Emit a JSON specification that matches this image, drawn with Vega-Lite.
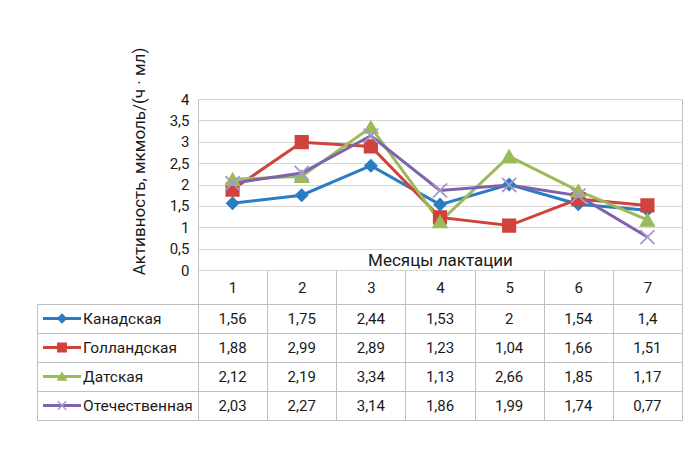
{
  "$schema": "https://vega.github.io/schema/vega-lite/v6.json",
  "padding": {"left": 36, "top": 46, "right": 3, "bottom": 30},
  "background": "white",
  "config": {
    "locale": {"number": {"decimal": ",", "thousands": " ", "grouping": [3], "currency": ["", ""]}},
    "font": "Roboto",
    "axis": {"labelFont": "Roboto", "titleFont": "Roboto", "labelColor": "#1a1a1a", "titleColor": "#1a1a1a"},
    "text": {"font": "Roboto"},
    "view": {"stroke": "#BFBFBF"}
  },
  "datasets": {
    "d": [
      {"series": "Канадская", "month": "1", "value": 1.56},
      {"series": "Канадская", "month": "2", "value": 1.75},
      {"series": "Канадская", "month": "3", "value": 2.44},
      {"series": "Канадская", "month": "4", "value": 1.53},
      {"series": "Канадская", "month": "5", "value": 2},
      {"series": "Канадская", "month": "6", "value": 1.54},
      {"series": "Канадская", "month": "7", "value": 1.4},
      {"series": "Голландская", "month": "1", "value": 1.88},
      {"series": "Голландская", "month": "2", "value": 2.99},
      {"series": "Голландская", "month": "3", "value": 2.89},
      {"series": "Голландская", "month": "4", "value": 1.23},
      {"series": "Голландская", "month": "5", "value": 1.04},
      {"series": "Голландская", "month": "6", "value": 1.66},
      {"series": "Голландская", "month": "7", "value": 1.51},
      {"series": "Датская", "month": "1", "value": 2.12},
      {"series": "Датская", "month": "2", "value": 2.19},
      {"series": "Датская", "month": "3", "value": 3.34},
      {"series": "Датская", "month": "4", "value": 1.13},
      {"series": "Датская", "month": "5", "value": 2.66},
      {"series": "Датская", "month": "6", "value": 1.85},
      {"series": "Датская", "month": "7", "value": 1.17},
      {"series": "Отечественная", "month": "1", "value": 2.03},
      {"series": "Отечественная", "month": "2", "value": 2.27},
      {"series": "Отечественная", "month": "3", "value": 3.14},
      {"series": "Отечественная", "month": "4", "value": 1.86},
      {"series": "Отечественная", "month": "5", "value": 1.99},
      {"series": "Отечественная", "month": "6", "value": 1.74},
      {"series": "Отечественная", "month": "7", "value": 0.77}
    ]
  },
  "columns": 2,
  "spacing": {"row": 34, "column": 0},
  "bounds": "flush",
  "concat": [
    {
      "width": 161,
      "height": 171,
      "data": {"values": []},
      "mark": {"type": "text"},
      "encoding": {},
      "view": {"stroke": null}
    },
    {
      "width": 484,
      "height": 171,
      "data": {"name": "d"},
      "encoding": {
        "x": {
          "field": "month", "type": "ordinal", "bandPosition": 0.5,
          "scale": {"type": "band", "paddingInner": 0, "paddingOuter": 0},
          "axis": {
            "title": "Месяцы лактации", "titleFontSize": 17, "titleFontWeight": "normal",
            "titleY": -5, "titleBaseline": "alphabetic",
            "labelAngle": 0, "labelFontSize": 15, "labelBaseline": "middle", "labelPadding": -16.5,
            "ticks": true, "tickBand": "extent", "tickSize": 34, "tickColor": "#BFBFBF",
            "domain": false, "grid": false
          }
        },
        "y": {
          "field": "value", "type": "quantitative",
          "scale": {"domain": [0, 4], "nice": false},
          "axis": {
            "title": "Активность, мкмоль/(ч · мл)", "titleFontSize": 17, "titleFontWeight": "normal",
            "titleX": -54, "titleY": 62, "titleBaseline": "alphabetic", "titleAngle": -90,
            "values": [0, 0.5, 1, 1.5, 2, 2.5, 3, 3.5, 4], "format": "~g",
            "labelFontSize": 15, "labelPadding": 9, "ticks": false, "domain": false,
            "grid": true, "gridColor": "#D4D4D4"
          }
        },
        "color": {
          "field": "series", "type": "nominal", "legend": null,
          "scale": {"domain": ["Канадская", "Голландская", "Датская", "Отечественная"], "range": ["#2A7DC2", "#D0433B", "#9BBB59", "#7F62AC"]}
        }
      },
      "layer": [
        {"mark": {"type": "line", "strokeWidth": 3}},
        {
          "mark": {"type": "point", "filled": true, "opacity": 1, "strokeWidth": 1.8},
          "encoding": {
            "shape": {"field": "series", "type": "nominal", "legend": null,
              "scale": {"domain": ["Канадская", "Голландская", "Датская", "Отечественная"], "range": ["diamond", "square", "triangle-up", "M-1,-1L1,1M-1,1L1,-1"]}},
            "size": {"field": "series", "type": "nominal", "legend": null,
              "scale": {"domain": ["Канадская", "Голландская", "Датская", "Отечественная"], "range": [130, 200, 190, 120]}},
            "stroke": {"field": "series", "type": "nominal", "legend": null,
              "scale": {"domain": ["Канадская", "Голландская", "Датская", "Отечественная"], "range": ["#2A7DC2", "#D0433B", "#9BBB59", "#A497CF"]}}
          }
        }
      ]
    },
    {
      "width": 161,
      "height": 116,
      "data": {"name": "d"},
      "transform": [{"filter": "datum.month == '1'"}],
      "encoding": {
        "y": {
          "field": "series", "type": "nominal", "bandPosition": 0.5,
          "scale": {"type": "band", "domain": ["Канадская", "Голландская", "Датская", "Отечественная"], "paddingInner": 0, "paddingOuter": 0},
          "axis": {"grid": true, "tickBand": "extent", "gridColor": "#BFBFBF", "labels": false, "ticks": false, "domain": false, "title": null}
        },
        "color": {"field": "series", "type": "nominal", "legend": null}
      },
      "layer": [
        {"mark": {"type": "rule", "strokeWidth": 3}, "encoding": {"x": {"value": 6}, "x2": {"value": 44}}},
        {
          "mark": {"type": "point", "filled": true, "opacity": 1, "strokeWidth": 1.5},
          "encoding": {
            "x": {"value": 25},
            "size": {"value": 70},
            "shape": {"field": "series", "type": "nominal", "legend": null},
            "stroke": {"field": "series", "type": "nominal", "legend": null}
          }
        },
        {
          "mark": {"type": "text", "align": "left", "baseline": "middle", "fontSize": 15.5, "color": "#1a1a1a"},
          "encoding": {"x": {"value": 46}, "text": {"field": "series", "type": "nominal"}, "color": {"value": "#1a1a1a"}}
        }
      ]
    },
    {
      "width": 484,
      "height": 116,
      "data": {"name": "d"},
      "mark": {"type": "text", "fontSize": 15, "baseline": "middle", "align": "center", "color": "#1a1a1a"},
      "encoding": {
        "x": {
          "field": "month", "type": "ordinal", "bandPosition": 0.5,
          "scale": {"type": "band", "paddingInner": 0, "paddingOuter": 0},
          "axis": {"grid": true, "tickBand": "extent", "gridColor": "#BFBFBF", "labels": false, "ticks": false, "domain": false, "title": null}
        },
        "y": {
          "field": "series", "type": "nominal", "bandPosition": 0.5,
          "scale": {"type": "band", "domain": ["Канадская", "Голландская", "Датская", "Отечественная"], "paddingInner": 0, "paddingOuter": 0},
          "axis": {"grid": true, "tickBand": "extent", "gridColor": "#BFBFBF", "labels": false, "ticks": false, "domain": false, "title": null}
        },
        "text": {"field": "value", "type": "quantitative", "format": "~g"}
      }
    }
  ]
}
